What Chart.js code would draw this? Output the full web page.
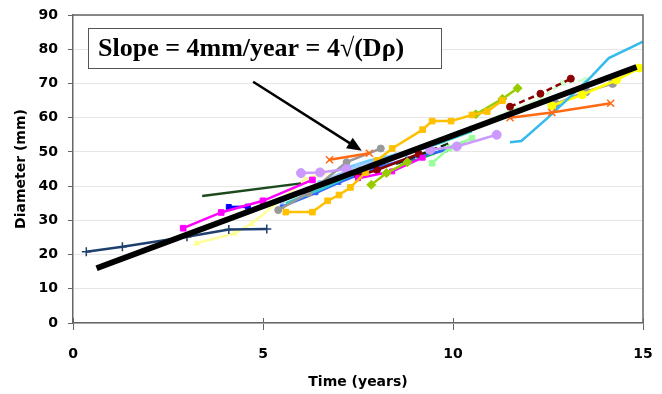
<html lang="en">
<head>
    <meta charset="UTF-8" />
    <title>Diameter vs Time</title>
</head>
<style>
    body { margin: 0; background: #fff; }
    .wrap { width: 662px; height: 394px; }
</style>
<body>
<div class="wrap">
    <canvas id="myChart" width="662" height="394"></canvas>
</div>

<script src="https://cdn.jsdelivr.net/npm/chart.js"></script>
<script>
    // tick values
    const xTicks = [0, 5, 10, 15];
    const yTicks = [0, 10, 20, 30, 40, 50, 60, 70, 80, 90];

    // fitted line, slope ~4 mm/year
    const fitTime = [0.62, 14.83];
    const fitDiameter = [16.0, 74.8];

    // individual patients: [time, diameter]
    const navyCross = [[0.35, 20.8], [1.3, 22.3], [3.0, 25.2], [4.1, 27.3], [5.1, 27.5]];
    const paleYellow = [[3.25, 23.3], [4.25, 26.2], [4.7, 29.0], [6.1, 41.8], [6.6, 44.0]];
    const magentaA = [[2.9, 27.7], [3.9, 32.3], [5.0, 35.7], [6.3, 41.8]];
    const magentaB = [[7.5, 42.3], [8.4, 44.3], [9.2, 48.3]];
    const darkGreen = [[3.4, 37.1], [6.0, 40.8]];
    const blueA = [[4.1, 33.9], [4.6, 34.0]];
    const blueB = [[5.5, 34.0], [6.4, 38.0], [7.0, 41.0], [7.9, 45.0], [8.8, 48.0], [9.8, 50.5]];
    const gold = [[5.6, 32.4], [6.3, 32.4], [6.7, 35.7], [7.0, 37.4], [7.3, 39.6], [7.7, 44.0], [8.0, 47.5], [8.4, 51.0], [9.2, 56.5], [9.45, 59.0], [9.95, 59.0], [10.5, 60.8], [10.9, 61.8], [11.3, 65.0]];
    const orangeA = [[6.75, 47.7], [7.8, 49.6]];
    const orangeB = [[11.5, 60.0], [12.6, 61.5], [14.15, 64.2]];
    const lavenderA = [[6.0, 43.8], [6.5, 44.0], [7.2, 45.0]];
    const lavenderB = [[9.4, 50.6], [10.1, 51.6], [11.15, 55.0]];
    const lightGreen = [[9.45, 46.7], [9.9, 51.1], [10.5, 54.0]];
    const mint = [[10.5, 57.0], [11.5, 62.0], [12.3, 65.5], [12.9, 70.2], [13.5, 71.0]];
    const limeA = [[7.85, 40.4], [8.25, 43.8], [8.8, 47.0]];
    const limeB = [[10.6, 61.0], [11.3, 65.5], [11.7, 68.6]];
    const maroonA = [[7.5, 43.0], [8.0, 44.7], [9.1, 49.4]];
    const maroonB = [[11.5, 63.2], [12.3, 67.0], [13.1, 71.4]];
    const cyan = [[11.5, 52.8], [11.8, 53.2], [12.5, 60.0], [13.55, 71.0], [14.1, 77.4], [15.0, 82.2]];
    const greyA = [[5.4, 33.0], [6.2, 38.0], [7.2, 47.0], [8.1, 51.0]];
    const greyB = [[12.7, 64.0], [13.5, 67.6], [14.2, 70.0]];
    const yellow = [[12.6, 63.5], [13.4, 66.7], [14.3, 71.0], [14.9, 74.5]];
    const teal = [[5.6, 35.0], [6.5, 39.0], [7.5, 44.0], [8.5, 48.5], [9.5, 52.0], [10.5, 56.0]];
    const darkDash = [[8.5, 46.5], [9.9, 52.5]];
    const lightBlue = [[5.5, 35.5], [6.5, 41.0], [7.5, 46.0], [8.5, 49.0]];
    const skyBlue = [[6.8, 44.0], [7.8, 47.5], [8.8, 50.0], [9.8, 53.0]];
    const green = [[8.6, 46.0], [9.5, 49.5], [10.3, 53.0]];
    const purple = [[7.0, 42.0], [8.0, 45.5], [9.0, 48.0]];
    const aqua = [[10.6, 57.5], [11.6, 61.0], [12.4, 64.5]];

    function pts(arr) {
        return arr.map(p => ({ x: p[0], y: p[1] }));
    }

    function series(arr, color, style, extra) {
        return Object.assign({
            data: pts(arr),
            borderColor: color,
            backgroundColor: color,
            borderWidth: 2.5,
            pointStyle: style || false,
            pointRadius: style ? 3.5 : 0,
            pointBorderWidth: 1,
            order: 1
        }, extra || {});
    }

    // box, arrow and the top/right frame
    const extras = {
        id: 'extras',
        afterDraw(chart) {
            const c = chart.ctx;
            const a = chart.chartArea;
            const xs = chart.scales.x;
            const ys = chart.scales.y;
            c.save();
            c.strokeStyle = '#666';
            c.lineWidth = 1.5;
            c.beginPath();
            c.moveTo(a.left, a.top);
            c.lineTo(a.right, a.top);
            c.lineTo(a.right, a.bottom);
            c.stroke();

            // x ticks also poke up into the plot
            c.lineWidth = 1;
            xTicks.forEach(v => {
                const px = Math.round(xs.getPixelForValue(v)) + 0.5;
                c.beginPath();
                c.moveTo(px, a.bottom - 5);
                c.lineTo(px, a.bottom);
                c.stroke();
            });

            // label box
            c.fillStyle = '#fff';
            c.fillRect(88, 28, 353, 40);
            c.strokeStyle = '#555';
            c.lineWidth = 1;
            c.strokeRect(88.5, 28.5, 353, 40);
            c.fillStyle = '#000';
            c.font = 'bold 26px "Liberation Serif"';
            c.textBaseline = 'middle';
            c.fillText('Slope = 4mm/year = 4\u221A(D\u03C1)', 98, 49);

            // arrow
            const x1 = xs.getPixelForValue(4.74), y1 = ys.getPixelForValue(70.5);
            const x2 = xs.getPixelForValue(7.6), y2 = ys.getPixelForValue(50.3);
            const ang = Math.atan2(y2 - y1, x2 - x1);
            c.strokeStyle = '#000';
            c.lineWidth = 2.5;
            c.beginPath();
            c.moveTo(x1, y1);
            c.lineTo(x2 - 12 * Math.cos(ang), y2 - 12 * Math.sin(ang));
            c.stroke();
            c.beginPath();
            c.moveTo(x2, y2);
            c.lineTo(x2 - 16 * Math.cos(ang - 0.4), y2 - 16 * Math.sin(ang - 0.4));
            c.lineTo(x2 - 16 * Math.cos(ang + 0.4), y2 - 16 * Math.sin(ang + 0.4));
            c.closePath();
            c.fill();
            c.restore();
        }
    };

    const ctx = document.querySelector('#myChart');
    const myChart = new Chart(ctx, {
        type: 'line',
        data: {
            datasets: [
                {
                    data: fitTime.map((t, i) => ({ x: t, y: fitDiameter[i] })),
                    borderColor: '#000',
                    borderWidth: 6,
                    pointRadius: 0,
                    borderCapStyle: 'butt',
                    order: 0
                },
                series(navyCross, '#1F3F6E', 'cross', { pointRadius: 4.5, pointBorderWidth: 1.5 }),
                series(magentaA, '#FF00FF', 'rect', { pointRadius: 4 }),
                series(darkGreen, '#1D4A1D', false),
                series(blueA, '#0000FF', 'rect'),
                series(gold, '#FFC000', 'rect', { pointRadius: 4 }),
                series(orangeA, '#FF6A13', 'crossRot', { pointRadius: 5, pointBorderWidth: 1.5 }),
                series(orangeB, '#FF6A13', 'crossRot', { pointRadius: 5, pointBorderWidth: 1.5 }),
                series(lavenderA, '#CC99FF', 'circle', { pointRadius: 4.5 }),
                series(lavenderB, '#CC99FF', 'circle', { pointRadius: 4.5 }),
                series(limeA, '#99CC00', 'rectRot', { pointRadius: 4.5 }),
                series(limeB, '#99CC00', 'rectRot', { pointRadius: 4.5 }),
                series(cyan, '#33BBEE', false),
                series(magentaB, '#FF00FF', 'rect'),
                series(maroonA, '#8B0000', 'circle', { pointRadius: 3.5 }),
                series(maroonB, '#8B0000', 'circle', { pointRadius: 3.5, borderDash: [6, 4] }),
                series(lightGreen, '#99FF99', 'rect', { pointRadius: 4 }),
                series(mint, '#CCFFCC', 'rect', { borderDash: [6, 3] }),
                series(paleYellow, '#FFFF99', 'triangle'),
                series(yellow, '#FFFF00', 'circle', { pointRadius: 4 }),
                series(greyA, '#999999', 'circle'),
                series(greyB, '#999999', 'circle', { pointRadius: 4 }),
                series(teal, '#33CCCC', false),
                series(darkDash, '#0F3010', false, { borderDash: [8, 4] }),
                series(blueB, '#3366FF', 'rect', { pointRadius: 2.5 }),
                series(lightBlue, '#99CCFF', 'circle', { pointRadius: 2.5 }),
                series(skyBlue, '#66CCFF', false),
                series(green, '#00B050', false),
                series(purple, '#7030A0', false, { borderWidth: 2 }),
                series(aqua, '#66FFCC', false)
            ]
        },
        options: {
            responsive: false,
            animation: false,
            layout: { padding: { top: 15, right: 19, left: 0, bottom: 0 } },
            plugins: { legend: { display: false }, tooltip: { enabled: false } },
            scales: {
                x: {
                    type: 'linear',
                    min: 0,
                    max: 15,
                    afterBuildTicks: s => { s.ticks = xTicks.map(v => ({ value: v })); },
                    afterFit: s => { s.height = 71; s.paddingLeft = 0; s.paddingRight = 0; },
                    border: { color: '#666', width: 1.5 },
                    grid: { drawOnChartArea: false, tickLength: 7, tickColor: '#666' },
                    ticks: { color: '#000', padding: 16, font: { family: 'DejaVu Sans', size: 14, weight: 'bold' } },
                    title: {
                        display: true,
                        text: 'Time (years)',
                        color: '#000',
                        font: { family: 'DejaVu Sans', size: 14, weight: 'bold' },
                        padding: { top: 0, bottom: 3 }
                    }
                },
                y: {
                    min: 0,
                    max: 90,
                    afterBuildTicks: s => { s.ticks = yTicks.map(v => ({ value: v })); },
                    afterFit: s => { s.width = 73; s.paddingTop = 0; s.paddingBottom = 0; },
                    border: { color: '#666', width: 1.5 },
                    grid: { color: '#e6e6e6', tickLength: 5, tickColor: '#666' },
                    ticks: { color: '#000', padding: 10, font: { family: 'DejaVu Sans', size: 14, weight: 'bold' } },
                    title: {
                        display: true,
                        text: 'Diameter (mm)',
                        color: '#000',
                        font: { family: 'DejaVu Sans', size: 14, weight: 'bold' },
                        padding: { top: 13, bottom: 0 }
                    }
                }
            }
        },
        plugins: [extras]
    });
</script>
</body>
</html>
